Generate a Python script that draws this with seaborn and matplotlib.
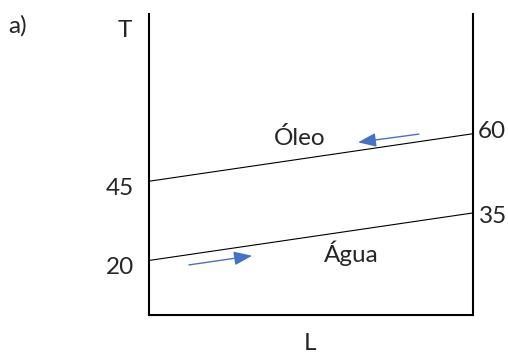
import matplotlib
matplotlib.use("Agg")
import matplotlib.pyplot as plt
import seaborn as sns
import pandas as pd

# Data
fluids = ["Óleo", "Água"]
L_pos = [0.0, 1.0]
T_oil = [45, 60]
T_water = [20, 35]
left_labels = ["45", "20"]
right_labels = ["60", "35"]
# arrow directions (start -> tip) in (L, T)
oil_arrow = [(0.834, 59.9), (0.646, 57.3)]
water_arrow = [(0.124, 18.6), (0.319, 21.5)]

sns.set_style("white")
plt.rcParams['font.family'] = ['Lato', 'DejaVu Sans']

W, H = 508, 353
fig = plt.figure(figsize=(W / 100, H / 100), dpi=100)
ax = fig.add_axes([148.7 / W, 1 - 315 / H, (472.7 - 148.7) / W, (315 - 14) / H])

df = pd.DataFrame({
    "L": L_pos + L_pos,
    "T": T_oil + T_water,
    "fluid": [fluids[0]] * 2 + [fluids[1]] * 2,
})
sns.lineplot(data=df, x="L", y="T", units="fluid", estimator=None,
             color="black", lw=0.8, ax=ax, legend=False)

ax.set_xlim(0, 1)
ax.set_ylim(2.8, 97.8)
ax.set_xticks([])
ax.set_yticks([])
ax.set_xlabel("")
ax.set_ylabel("")
for s in ["left", "right", "bottom"]:
    ax.spines[s].set_visible(True)
    ax.spines[s].set_color("black")
    ax.spines[s].set_linewidth(1.5)
ax.spines["top"].set_visible(False)

blue = "#4472C4"
for (start, tip) in [oil_arrow, water_arrow]:
    ax.annotate("", xy=tip, xytext=start,
                arrowprops=dict(arrowstyle="-|>,head_length=1.1,head_width=0.42",
                                color=blue, lw=1.0, shrinkA=0, shrinkB=0,
                                mutation_scale=10))

fs = 17.5
# endpoint labels
ax.annotate(left_labels[0], xy=(0, T_oil[0]), xytext=(-15, -13.7), textcoords="offset pixels",
            ha="right", va="baseline", fontsize=fs)
ax.annotate(left_labels[1], xy=(0, T_water[0]), xytext=(-14.5, -13.8), textcoords="offset pixels",
            ha="right", va="baseline", fontsize=fs)
ax.annotate(right_labels[0], xy=(1, T_oil[1]), xytext=(5.5, -4.6), textcoords="offset pixels",
            ha="left", va="baseline", fontsize=fs)
ax.annotate(right_labels[1], xy=(1, T_water[1]), xytext=(6.3, -10.3), textcoords="offset pixels",
            ha="left", va="baseline", fontsize=fs)

def ftext(x, y, s, **kw):
    fig.text(x / W, 1 - y / H, s, fontsize=fs, va="baseline", **kw)

ftext(8, 33, "a)", ha="left")
ftext(124.7, 37, "T", ha="center")
ftext(299.5, 145, fluids[0], ha="center")
ftext(351.7, 261.7, fluids[1], ha="center")
ftext(309.5, 349.5, "L", ha="center")

fig.savefig("out.png", dpi=100)
